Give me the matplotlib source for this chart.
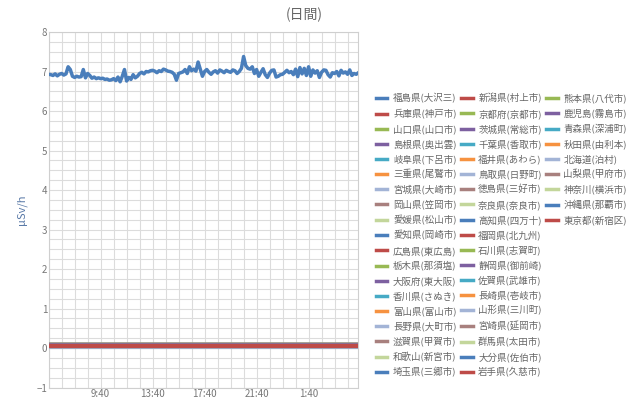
import matplotlib.pyplot as plt
from matplotlib.lines import Line2D
from matplotlib.ticker import MultipleLocator, FixedLocator

plt.rcParams['font.family'] = ['Noto Sans CJK JP', 'DejaVu Sans']

# 福島県(大沢三) 10分値 (5:40 から 24時間)
fukushima = [
    6.93, 6.92, 6.90, 6.94, 6.89, 6.93, 6.95, 6.91, 6.94, 7.12, 7.05, 6.88,
    6.85, 6.88, 6.86, 6.87, 7.05, 6.84, 6.95, 6.90, 6.83, 6.86, 6.82, 6.84,
    6.82, 6.83, 6.80, 6.81, 6.78, 6.79, 6.82, 6.77, 6.86, 6.74, 6.88, 7.05,
    6.76, 6.85, 6.80, 6.92, 6.84, 6.88, 6.95, 6.98, 6.94, 7.00, 6.99, 7.02,
    7.03, 7.01, 6.97, 7.02, 7.00, 7.06, 7.04, 7.01, 7.00, 6.98, 6.93, 6.78,
    6.95, 6.97, 6.99, 7.05, 6.95, 7.12, 7.02, 7.06, 7.01, 7.24, 7.06, 6.88,
    7.00, 7.05, 6.98, 6.93, 6.99, 7.02, 6.96, 7.04, 7.01, 6.97, 7.03, 7.00,
    6.98, 7.04, 7.02, 6.95, 7.00, 7.08, 7.38, 7.15, 7.08, 7.06, 7.12, 6.95,
    7.05, 6.88, 6.98, 7.07, 6.92, 6.85, 6.96, 7.03, 7.04, 6.86, 6.88, 6.92,
    6.93, 6.98, 7.03, 6.97, 7.00, 6.92, 7.06, 6.87, 7.10, 6.94, 7.08, 6.90,
    7.12, 6.88, 7.04, 6.96, 7.02, 6.85, 6.98, 7.04, 7.03, 6.92, 6.86, 6.97,
    6.95, 7.00, 6.89, 7.03, 6.96, 6.99, 6.93, 7.04, 6.90, 6.95, 6.93, 6.97,
]

# その他の観測点 (ほぼ一定)
others = [
    '兵庫県(神戸市)', '山口県(山口市)', '島根県(奥出雲)', '岐阜県(下呂市)', '三重県(尾鷲市)',
    '宮城県(大崎市)', '岡山県(笠岡市)', '愛媛県(松山市)', '愛知県(岡崎市)', '広島県(東広島)',
    '栃木県(那須塩)', '大阪府(東大阪)', '香川県(さぬき)', '富山県(富山市)', '長野県(大町市)',
    '滋賀県(甲賀市)', '和歌山(新宮市)', '埼玉県(三郷市)',
    '新潟県(村上市)', '京都府(京都市)', '茨城県(常総市)', '千葉県(香取市)', '福井県(あわら)',
    '鳥取県(日野町)', '徳島県(三好市)', '奈良県(奈良市)', '高知県(四万十)', '福岡県(北九州)',
    '石川県(志賀町)', '静岡県(御前崎)', '佐賀県(武雄市)', '長崎県(壱岐市)', '山形県(三川町)',
    '宮崎県(延岡市)', '群馬県(太田市)', '大分県(佐伯市)', '岩手県(久慈市)',
    '熊本県(八代市)', '鹿児島(霧島市)', '青森県(深浦町)', '秋田県(由利本)', '北海道(泊村)',
    '山梨県(甲府市)', '神奈川(横浜市)', '沖縄県(那覇市)', '東京都(新宿区)',
]
other_levels = [
    0.05, 0.09, 0.06, 0.08, 0.07, 0.06, 0.07, 0.06, 0.07, 0.06,
    0.08, 0.07, 0.07, 0.07, 0.09, 0.07, 0.07, 0.08,
    0.06, 0.07, 0.08, 0.07, 0.07, 0.08, 0.06, 0.06, 0.06, 0.06,
    0.07, 0.06, 0.06, 0.07, 0.06, 0.06, 0.07, 0.06, 0.05,
    0.06, 0.07, 0.05, 0.06, 0.04, 0.06, 0.05, 0.05, 0.06,
]

palette = ['#4a7ebb', '#be4b48', '#98b954', '#7d60a0', '#46aac5',
           '#f69240', '#a3b4d6', '#a8807e', '#c3d69b']

minutes = [i * 10 for i in range(len(fukushima))]
tick_pos = [240, 480, 720, 960, 1200]
tick_labels = ['9:40', '13:40', '17:40', '21:40', '1:40']

fig = plt.figure(figsize=(6.4, 4), dpi=100)
ax = fig.add_axes([0.076, 0.031, 0.484, 0.889])

handles = []
h, = ax.plot(minutes, fukushima, color=palette[0], lw=2.5, label='福島県(大沢三)', zorder=5)
handles.append(h)
for i, (name, lv) in enumerate(zip(others, other_levels)):
    h, = ax.plot(minutes, [lv] * len(minutes), color=palette[(i + 1) % 9], lw=3,
                 label=name, zorder=3)
    handles.append(h)

ax.set_xlim(0, minutes[-1])
ax.set_ylim(-1, 8)
ax.yaxis.set_major_locator(MultipleLocator(1))
ax.yaxis.set_minor_locator(MultipleLocator(0.25))
ax.xaxis.set_major_locator(FixedLocator(tick_pos))
ax.xaxis.set_minor_locator(MultipleLocator(60))
ax.set_xticklabels(tick_labels)
ax.grid(True, which='both', color='#dcdcdc', lw=0.8)
ax.set_axisbelow(True)
for s in ax.spines.values():
    s.set_color('#cfcfcf')
    s.set_linewidth(0.8)
ax.tick_params(which='both', length=0, labelsize=7, colors='#777777', pad=1)

ax.set_ylabel('μSv/h', color='#5a7aa8', fontsize=8, labelpad=7)
fig.text(0.476, 0.962, '(日間)', ha='center', va='center', fontsize=10, color='#666666')

# 凡例: 19行×3列 (列方向に並ぶ)
rows = 19
blank = Line2D([], [], color='none')
leg_handles = handles + [blank] * (rows * 3 - len(handles))
leg_labels = [hh.get_label() for hh in handles] + [''] * (rows * 3 - len(handles))
leg = fig.legend(leg_handles, leg_labels, ncol=3, loc='upper left',
                 bbox_to_anchor=(0.5875, 0.767), frameon=False, fontsize=6.8,
                 handlelength=1.2, handletextpad=0.6, columnspacing=0.5,
                 labelspacing=0.56, borderaxespad=0, borderpad=0,
                 labelcolor='#666666')
for lh in leg.get_lines():
    lh.set_linewidth(2.5)

fig.savefig('out.png', dpi=100)
